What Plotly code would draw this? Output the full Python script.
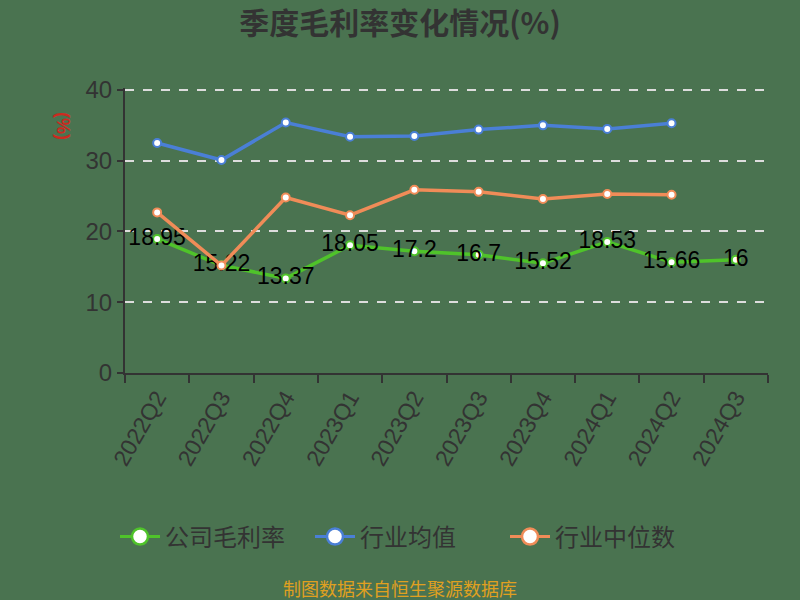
import plotly.graph_objects as go

quarters = ["2022Q2", "2022Q3", "2022Q4", "2023Q1", "2023Q2", "2023Q3", "2023Q4", "2024Q1", "2024Q2", "2024Q3"]
company = [18.95, 15.22, 13.37, 18.05, 17.2, 16.7, 15.52, 18.53, 15.66, 16]
industry_avg = [32.5, 30.1, 35.4, 33.4, 33.5, 34.4, 35.0, 34.5, 35.3, None]
industry_median = [22.7, 15.2, 24.8, 22.3, 25.9, 25.6, 24.6, 25.3, 25.2, None]
company_labels = ["18.95", "15.22", "13.37", "18.05", "17.2", "16.7", "15.52", "18.53", "15.66", "16"]
series_names = ["公司毛利率", "行业均值", "行业中位数"]

BG = "#4a7350"
GREEN = "#4fc32a"
BLUE = "#4a7fd6"
ORANGE = "#f08c58"
DARK = "#333333"
CJK = "Noto Sans CJK SC"
LAT = "Liberation Sans, Arial, sans-serif"
colors = [GREEN, BLUE, ORANGE]

fig = go.Figure()

fig.add_trace(go.Scatter(
    x=quarters, y=company, name=series_names[0], mode="lines+markers+text",
    text=company_labels, textposition="middle center", showlegend=False,
    textfont=dict(family=LAT, size=23, color="#000000"),
    line=dict(color=GREEN, width=3.5),
    marker=dict(symbol="circle", size=8, color="white", line=dict(color=GREEN, width=2)),
))
fig.add_trace(go.Scatter(
    x=quarters, y=industry_avg, name=series_names[1], mode="lines+markers", showlegend=False,
    line=dict(color=BLUE, width=3.5),
    marker=dict(symbol="circle", size=8, color="white", line=dict(color=BLUE, width=2)),
))
fig.add_trace(go.Scatter(
    x=quarters, y=industry_median, name=series_names[2], mode="lines+markers", showlegend=False,
    line=dict(color=ORANGE, width=3.5),
    marker=dict(symbol="circle", size=8, color="white", line=dict(color=ORANGE, width=2)),
))
# legend entries with larger symbols
for nm, c in zip(series_names, colors):
    fig.add_trace(go.Scatter(
        x=[None], y=[None], name=nm, mode="lines+markers", showlegend=True,
        line=dict(color=c, width=3),
        marker=dict(symbol="circle", size=16, color="white", line=dict(color=c, width=2.5)),
    ))

PW = 643
fig.update_layout(
    width=800, height=600,
    paper_bgcolor=BG, plot_bgcolor=BG,
    margin=dict(l=125, r=32, t=88, b=227),
    title=dict(text="<b>季度毛利率变化情况(%)</b>", x=0.5, xanchor="center", y=1 - 23 / 600, yanchor="middle",
               font=dict(family=CJK, size=30, color=DARK)),
    showlegend=True,
    legend=dict(orientation="h", x=(115 - 125) / PW, xanchor="left", y=(373 - 537) / 285, yanchor="middle",
                font=dict(family=CJK, size=24, color=DARK), bgcolor="rgba(0,0,0,0)",
                traceorder="normal", entrywidth=140, entrywidthmode="pixels", itemwidth=40),
    xaxis=dict(
        type="category", range=[-0.5, 9.5], showgrid=False,
        showline=True, linecolor=DARK, linewidth=2,
        ticks="outside", tickson="boundaries", ticklen=8, tickcolor=DARK, tickwidth=2,
        tickangle=-60, tickfont=dict(family=LAT, size=23, color=DARK),
    ),
    yaxis=dict(
        range=[0, 40.28], tickvals=[0, 10, 20, 30, 40], showgrid=True, gridcolor="#dddddd",
        griddash="dash", gridwidth=1.5,
        showline=True, linecolor=DARK, linewidth=2,
        ticks="outside", ticklen=6, tickcolor=DARK, tickwidth=2,
        tickfont=dict(family=LAT, size=24, color=DARK), zeroline=False,
    ),
    annotations=[
        dict(text="<b>(%)</b>", x=(63 - 125) / PW, y=(373 - 126) / 285, xref="paper", yref="paper",
             xanchor="center", yanchor="middle", showarrow=False,
             textangle=90, font=dict(family=LAT, size=18, color="#cc2a20")),
        dict(text="制图数据来自恒生聚源数据库", x=(400 - 125) / PW, y=(373 - 588) / 285, xref="paper", yref="paper",
             xanchor="center", yanchor="middle", showarrow=False,
             font=dict(family=CJK, size=18, color="#e0a020")),
    ],
)

fig.write_html("out.html", config={"displayModeBar": False},
               post_script="document.body.style.margin='0';document.body.style.overflow='hidden';")
